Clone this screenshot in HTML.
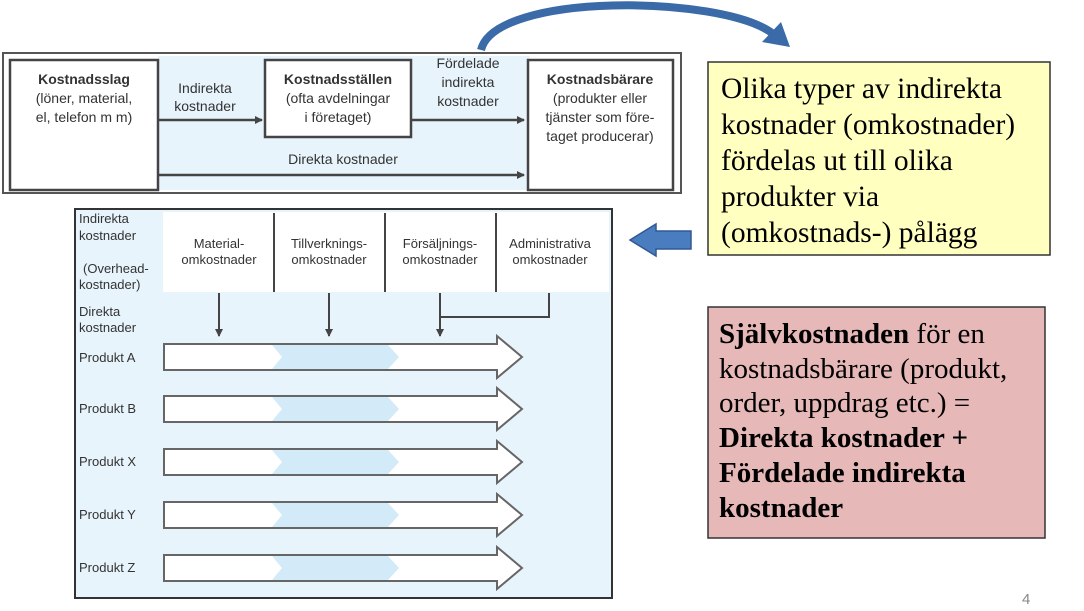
<!DOCTYPE html>
<html><head><meta charset="utf-8"><style>
html,body{margin:0;padding:0;background:#fff;}
svg{display:block;}
.s{font-family:"Liberation Sans",sans-serif;fill:#333;}
.r{font-family:"Liberation Serif",serif;fill:#000;}
</style></head><body>
<svg width="1084" height="611" viewBox="0 0 1084 611" xmlns="http://www.w3.org/2000/svg">
<defs>
<marker id="ah" markerWidth="8" markerHeight="8" refX="7" refY="4" orient="auto" markerUnits="userSpaceOnUse"><path d="M0,0 L8,4 L0,8 Z" fill="#444"/></marker>
</defs>
<rect x="3" y="53" width="678" height="140" fill="#fff" stroke="#555" stroke-width="2"/>
<rect x="158" y="56" width="372" height="134" fill="#e8f4fc"/>
<rect x="10" y="60" width="148" height="130" fill="#fff" stroke="#444" stroke-width="2.5"/>
<rect x="265" y="60" width="146" height="77" fill="#fff" stroke="#444" stroke-width="2.5"/>
<rect x="528" y="60" width="145" height="130" fill="#fff" stroke="#444" stroke-width="2.5"/>
<g class="s" font-size="14" text-anchor="middle">
<text x="84" y="84" font-weight="bold">Kostnadsslag</text>
<text x="84" y="103">(löner, material,</text>
<text x="84" y="122">el, telefon m m)</text>
<text x="205" y="93">Indirekta</text>
<text x="205" y="111">kostnader</text>
<text x="338" y="84" font-weight="bold">Kostnadsställen</text>
<text x="338" y="103">(ofta avdelningar</text>
<text x="338" y="122">i företaget)</text>
<text x="468" y="68">Fördelade</text>
<text x="468" y="87">indirekta</text>
<text x="468" y="106">kostnader</text>
<text x="600" y="84" font-weight="bold">Kostnadsbärare</text>
<text x="600" y="103">(produkter eller</text>
<text x="600" y="122">tjänster som före-</text>
<text x="600" y="141">taget producerar)</text>
<text x="343" y="164">Direkta kostnader</text>
</g>
<g stroke="#444" stroke-width="2.5" marker-end="url(#ah)">
<line x1="158" y1="120" x2="262" y2="120"/>
<line x1="411" y1="120" x2="524" y2="120"/>
<line x1="158" y1="175" x2="524" y2="175"/>
</g>
<path d="M481,50 C495,-8 720,-5 772,33" fill="none" stroke="#3a6aa8" stroke-width="8"/>
<path d="M762,42 L790,47 L781,22 Z" fill="#3a6aa8"/>
<path d="M630,240 L656,224 L656,231 L691,231 L691,249 L656,249 L656,256 Z" fill="#4a7cc0" stroke="#2f5a92" stroke-width="1.5"/>
<rect x="75" y="209" width="537" height="389" fill="#e8f4fc" stroke="#333" stroke-width="2"/>
<rect x="163" y="212" width="446" height="80" fill="#fff"/>
<g stroke="#444" stroke-width="2"><line x1="274" y1="213" x2="274" y2="292"/><line x1="385" y1="213" x2="385" y2="292"/><line x1="496" y1="213" x2="496" y2="292"/></g>
<g class="s" font-size="13">
<text x="79" y="223">Indirekta</text>
<text x="79" y="240">kostnader</text>
<text x="83" y="273">(Overhead-</text>
<text x="79" y="289">kostnader)</text>
<text x="79" y="316">Direkta</text>
<text x="79" y="332">kostnader</text>
<text x="79" y="362">Produkt A</text>
<text x="79" y="413">Produkt B</text>
<text x="79" y="466">Produkt X</text>
<text x="79" y="519">Produkt Y</text>
<text x="79" y="572">Produkt Z</text>
</g>
<g class="s" font-size="13" text-anchor="middle">
<text x="219" y="248">Material-</text><text x="219" y="264">omkostnader</text>
<text x="329" y="248">Tillverknings-</text><text x="329" y="264">omkostnader</text>
<text x="440" y="248">Försäljnings-</text><text x="440" y="264">omkostnader</text>
<text x="550" y="248">Administrativa</text><text x="550" y="264">omkostnader</text>
</g>
<g stroke="#444" stroke-width="2" fill="none">
<line x1="219" y1="293" x2="219" y2="336" marker-end="url(#ah)"/>
<line x1="329" y1="293" x2="329" y2="336" marker-end="url(#ah)"/>
<line x1="440" y1="293" x2="440" y2="336" marker-end="url(#ah)"/>
<polyline points="440,317 549,317 549,293"/>
</g>
<g>
<g transform="translate(0,340)"><path d="M164,4 L497,4 L497,-4 L522,17 L497,38 L497,30 L164,30 Z" fill="#fff" stroke="#666" stroke-width="2"/><path d="M272,5 L388,5 L399,17 L388,29 L272,29 L282,17 Z" fill="#d3eaf8"/></g>
<g transform="translate(0,392)"><path d="M164,4 L497,4 L497,-4 L522,17 L497,38 L497,30 L164,30 Z" fill="#fff" stroke="#666" stroke-width="2"/><path d="M272,5 L388,5 L399,17 L388,29 L272,29 L282,17 Z" fill="#d3eaf8"/></g>
<g transform="translate(0,445)"><path d="M164,4 L497,4 L497,-4 L522,17 L497,38 L497,30 L164,30 Z" fill="#fff" stroke="#666" stroke-width="2"/><path d="M272,5 L388,5 L399,17 L388,29 L272,29 L282,17 Z" fill="#d3eaf8"/></g>
<g transform="translate(0,498)"><path d="M164,4 L497,4 L497,-4 L522,17 L497,38 L497,30 L164,30 Z" fill="#fff" stroke="#666" stroke-width="2"/><path d="M272,5 L388,5 L399,17 L388,29 L272,29 L282,17 Z" fill="#d3eaf8"/></g>
<g transform="translate(0,551)"><path d="M164,4 L497,4 L497,-4 L522,17 L497,38 L497,30 L164,30 Z" fill="#fff" stroke="#666" stroke-width="2"/><path d="M272,5 L388,5 L399,17 L388,29 L272,29 L282,17 Z" fill="#d3eaf8"/></g>
</g>
<rect x="708" y="62" width="342" height="193" fill="#ffffc0" stroke="#333" stroke-width="1.5"/>
<g class="r" font-size="29.5">
<text x="721" y="98">Olika typer av indirekta</text>
<text x="721" y="134">kostnader (omkostnader)</text>
<text x="721" y="170">fördelas ut till olika</text>
<text x="721" y="206">produkter via</text>
<text x="721" y="242">(omkostnads-) pålägg</text>
</g>
<rect x="708" y="307" width="337" height="231" fill="#e6b8b8" stroke="#333" stroke-width="1.5"/>
<g class="r" font-size="29">
<text x="719" y="343"><tspan font-weight="bold">Självkostnaden</tspan> för en</text>
<text x="719" y="378">kostnadsbärare (produkt,</text>
<text x="719" y="412">order, uppdrag etc.) =</text>
<text x="719" y="447" font-weight="bold">Direkta kostnader +</text>
<text x="719" y="482" font-weight="bold">Fördelade indirekta</text>
<text x="719" y="517" font-weight="bold">kostnader</text>
</g>
<text x="1022" y="604" font-family="Liberation Sans,sans-serif" font-size="15" fill="#888">4</text>
</svg>
</body></html>
